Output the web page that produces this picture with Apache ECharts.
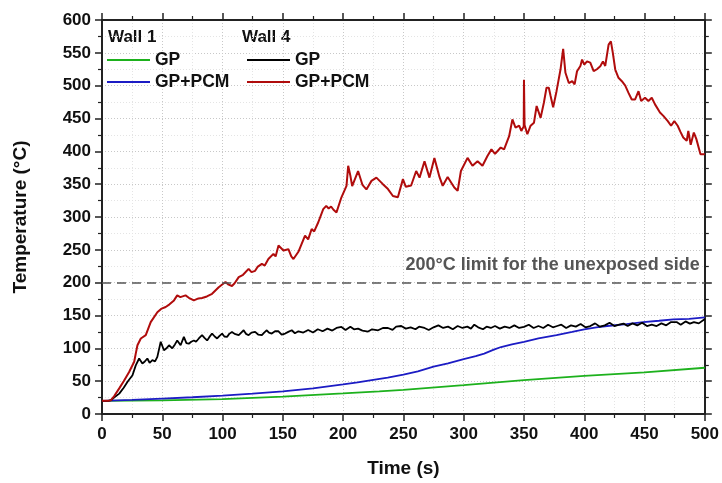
<!DOCTYPE html>
<html><head><meta charset="utf-8">
<script src="https://cdn.jsdelivr.net/npm/echarts@6/dist/echarts.min.js"></script>
<style>html,body{margin:0;padding:0;background:#fff}#c{width:722px;height:483px}</style>
</head><body><div id="c"></div>
<script>
// Wall 1 GP (green)
const w1gpTime = [0,50,100,150,200,230,250,300,350,400,450,500];
const w1gpTemp = [20,20.8,22.8,26.4,31.4,34.5,36.8,44,51.6,58,63.5,70.4];
// Wall 1 GP+PCM (blue)
const w1pcmTime = [0,25,50,75,100,125,150,175,200,212,225,237,250,262,275,287,300,310,317,325,331,340,350,362,377,390,400,410,419,435,449,462,474,487,500];
const w1pcmTemp = [20,21.5,23.5,25.5,28,31,34.5,39,45,48,52,55.5,60,65,72,77,83.5,88,92,98,102,106,110,115,120,125,129,132,134,137,140,142,144,145,147];
// Wall 4 GP (black)
const w4gpTime = [0,5,7.4,10,14.3,18,21.2,25.3,28,30.8,33.5,35.5,37.6,39.5,41.8,44,45.9,48.7,51.4,53.5,55.6,58.3,60.5,62.4,65.2,67.9,70,72,74,76.2,78,80.3,83,85,87.2,89,91.3,93.5,95.5,97.5,99.6,101.5,103.7,105.5,107.8,110,113.4,115.5,117.5,119.5,121.6,124,127,129.5,132.6,134.5,136.7,138.5,140.8,143.5,146.4,149,151.9,154.5,157.4,160,162.9,167,171,175,179,183,187,191,194.5,198.6,202,206,209,212.4,216,220.7,224,229,233,237.2,241,244,248.2,252,256,260,263,267.5,271,275,279,283,287,291,295,299,303,306,308.8,312,316,319,322.5,326,330,334,338,342,346,350,354,358,362,366,370,374,377.5,381,385,389,393,397,401,405,409,413,417,421,425,429,432.6,436,440,444,448,452,456,460,464,468,472,476.6,480,484,487.6,491,495,498.6,500];
const w4gpTemp = [20,20,21,25,31,40,49,59,74,84.5,77,80,84.5,78,82,80,87,110,97,100,104.7,100,106,112,104.7,117.4,108,107,110,112,110,115,120,116,112,117,122.5,118,115,119,122.5,118,117.4,122,125,122,120,124,127.5,122,120,124,125,121,120,124,127.5,124,122.5,126,126,121,122.5,125,127.5,123,126,124,128,124,129,126,130,127,131,132.6,128,133,129,130,127,125.6,129,127.5,131,131,128,133,134,130,132,129,133,131,128,132,135,131,133,129,134,131,133,130,136,132,129,133,131,134,130,133,131,135,131,132.6,136,131,134,131,136,132,134,136,131,135,133,137,132,134,138,133,135,139,134,136,137.6,134,138,135,139,134,136,134,138,135,140,140,136,141,137.6,140,138,142.6,145];
// Wall 4 GP+PCM (red)
const w4pcmTime = [0,5,7.4,10,14.3,18,22.5,26.7,28,29.4,32.2,36.3,40.4,45.9,49,52.8,56,59.7,62.4,65,69.3,72,76.2,80,83,87,91.3,96.8,102.4,105,107.8,110,113.4,117,121.6,124,127,129,132.6,135,138,142.2,144,146.4,150.5,154.6,157,158.8,162.9,168.4,171,173.9,176,179.4,183.5,186,188,190,192,194.5,198.6,202.8,204.2,206,207.5,209,212.4,216,219.3,223.5,227.6,229,233,237.2,241.3,245.4,249.6,252,256.4,260.6,263.4,267.5,271.6,275.7,279.9,282.6,286.7,292.2,295,297.7,303.2,307.3,311.5,315.6,319.7,323,326,330.7,333.5,337.7,340.4,343,346,347.8,349.8,350,350.3,350.5,352.8,355.5,358.3,360.5,363.8,366.5,368.7,370.6,372,374.2,377,380.3,382.5,384.4,387.2,390,392,394,396.8,398.2,400,402.3,405,407.8,410.5,413.3,415.5,417.4,420.2,422.1,423.7,425.7,428.4,431.2,434,436.7,439.4,442.2,445,447.2,450.4,453.2,456,458.7,462.8,465.6,469.3,472,474.7,477.5,479.7,482.1,485,486.3,488.3,490.9,493,496.4,500];
const w4pcmTemp = [20,20,21,27,39,50,64,79.5,92,104.7,115,120,140,155,160,163,167,173,180.6,178,180.6,177,173,176,176.6,179,183,193,201,197,195,199,208.5,212,221,216,218,224,228.7,226,236,243.9,240,256.5,249,251,240,236,247,271.6,266,281.8,278,292,312,317,313,316,311,307,330,347.5,378,363,347,348,370,349,342,355,360,362,350,342.5,332,330,357.7,346,348,370,360,385,360,390,361,347.5,361,345,340,370,390,378,385,378,393,403,396,405.8,403,423,448.7,436,439,431,438,509,509,440,426,439,443.7,469,451,474,496.8,496.8,485,467,491.6,524.6,556,519.6,504,507,502,522,530,539.8,532,537,535,522,525,529.6,537,530,562.5,567.5,550,524.6,512,506.8,500,489,479,479,491.6,476.6,481.6,476.6,481.6,471.5,459,454,446,439,446,439,430,421,416,431,410,428.5,418.6,395.6,395.6];
const limitValue = 200;
const limitText = '200°C limit for the unexposed side';
const xTicks = {min:0, max:500, interval:50};
const yTicks = {min:0, max:600, interval:50};

const pairs = (t, v) => t.map((x, i) => [x, v[i]]);
const FONT = '"Liberation Sans", Arial, sans-serif';
const chart = echarts.init(document.getElementById('c'), null, {renderer:'canvas'});

const axisCommon = {
  type:'value',
  axisLine:{show:true, onZero:false, lineStyle:{color:'#222', width:2}},
  axisTick:{show:true, inside:false, length:7, lineStyle:{color:'#222', width:1.5}},
  minorTick:{show:true, splitNumber:2, length:4, lineStyle:{color:'#222', width:1.2}},
};

const lineSeries = (name, data, color, w) => ({
  name, type:'line', data, showSymbol:false, symbol:'none',
  lineStyle:{color, width:w || 1.8}, itemStyle:{color}, animation:false, z:3
});

const legendCommon = {
  orient:'vertical', top:50, padding:0, itemWidth:43, itemHeight:2, itemGap:2, icon:'rect',
  formatter:n=>n.replace(/^Wall \d /,''),
  textStyle:{fontSize:17.5, fontWeight:'bold', color:'#111', fontFamily:FONT, lineHeight:20},
  selectedMode:false
};

chart.setOption({
  animation:false,
  textStyle:{fontFamily:FONT},
  grid:{left:102, right:14, top:20, bottom:67, containLabel:false},
  xAxis:[
    Object.assign({}, axisCommon, {
      position:'bottom', min:xTicks.min, max:xTicks.max, interval:xTicks.interval,
      name:'Time (s)', nameLocation:'middle', nameGap:45,
      nameTextStyle:{fontSize:19, fontWeight:'bold', color:'#111', fontFamily:FONT},
      axisLabel:{fontSize:17, fontWeight:'bold', color:'#111', margin:12, fontFamily:FONT},
      splitLine:{show:true, lineStyle:{color:'#c8c8c8', type:[1,2], width:1}},
      minorSplitLine:{show:true, lineStyle:{color:'#e4e4e4', type:[1,2], width:1}}
    }),
    Object.assign({}, axisCommon, {
      position:'top', min:xTicks.min, max:xTicks.max, interval:xTicks.interval,
      axisLabel:{show:false}, splitLine:{show:false}
    })
  ],
  yAxis:[
    Object.assign({}, axisCommon, {
      position:'left', min:yTicks.min, max:yTicks.max, interval:yTicks.interval,
      name:'Temperature (°C)', nameLocation:'middle', nameGap:72, nameRotate:90,
      nameTextStyle:{fontSize:19, fontWeight:'bold', color:'#111', fontFamily:FONT},
      axisLabel:{fontSize:17, fontWeight:'bold', color:'#111', margin:11, fontFamily:FONT},
      splitLine:{show:true, lineStyle:{color:'#c8c8c8', type:[1,2], width:1}},
      minorSplitLine:{show:true, lineStyle:{color:'#e4e4e4', type:[1,2], width:1}}
    }),
    Object.assign({}, axisCommon, {
      position:'right', min:yTicks.min, max:yTicks.max, interval:yTicks.interval,
      axisLabel:{show:false}, splitLine:{show:false}
    })
  ],
  legend:[
    Object.assign({}, legendCommon, {data:['Wall 1 GP','Wall 1 GP+PCM'], left:107}),
    Object.assign({}, legendCommon, {data:['Wall 4 GP','Wall 4 GP+PCM'], left:247})
  ],
  graphic:[
    {type:'text', left:108, top:29, style:{text:'Wall 1', font:'bold 17px '+FONT, fill:'#111'}},
    {type:'text', left:242, top:29, style:{text:'Wall 4', font:'bold 17px '+FONT, fill:'#111'}}
  ],
  series:[
    Object.assign(lineSeries('Wall 1 GP', pairs(w1gpTime, w1gpTemp), '#1db11d'), {
      markLine:{silent:true, symbol:['none','none'], animation:false,
        lineStyle:{color:'#555', type:[9,6], width:1.6},
        label:{show:true, position:'insideEndTop', formatter:limitText, distance:[5,9],
          color:'#555', fontSize:18, fontWeight:'bold', fontFamily:FONT},
        data:[{yAxis:limitValue}]}
    }),
    lineSeries('Wall 1 GP+PCM', pairs(w1pcmTime, w1pcmTemp), '#1c1cc4'),
    lineSeries('Wall 4 GP', pairs(w4gpTime, w4gpTemp), '#000000'),
    lineSeries('Wall 4 GP+PCM', pairs(w4pcmTime, w4pcmTemp), '#b00c0c', 2)
  ]
});
</script></body></html>
